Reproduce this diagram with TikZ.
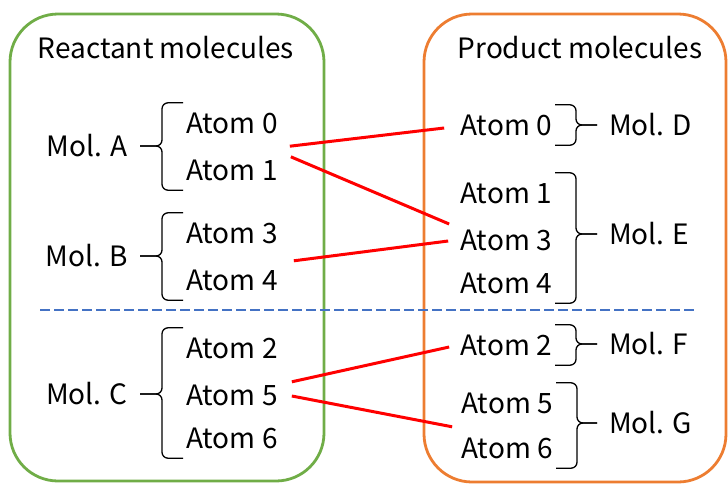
\documentclass[tikz,border=0pt]{standalone}
\usepackage{fontspec}
\setmainfont{Noto Sans CJK JP}
\usetikzlibrary{positioning}

\definecolor{reactgreen}{HTML}{70AD47}
\definecolor{prodorange}{HTML}{ED7D31}
\definecolor{splitblue}{HTML}{4472C4}

% brace from a molecule label to the first and last atom of the group
\newcommand{\molbrace}[4]{%
  \draw[bracket] (#3) -| ([xshift=#4]#1) -- (#1);
  \draw[bracket] (#3) -| ([xshift=#4]#2) -- (#2);}

\begin{document}
\begin{tikzpicture}[x=1pt, y=-1pt, node distance=47pt, font=\fontsize{28}{33}\selectfont,
  atom/.style={inner xsep=3pt, inner ysep=10pt, text height=20pt, text depth=0pt},
  mol/.style={inner xsep=12pt},
  frame/.style={line width=2.8pt, rounded corners=48pt},
  bracket/.style={line width=1.3pt, rounded corners=6pt},
  bond/.style={line width=3pt, red}]
\useasboundingbox (0,0) rectangle (728,483);

\draw[frame, reactgreen] (10,14) rectangle (324,481);
\draw[frame, prodorange] (424,14) rectangle (726,482);
\draw[line width=2.8pt, splitblue, dash pattern=on 10pt off 4pt] (40,310) -- (694,310);

\node (rtitle) at (166,48) {Reactant molecules};
\node (ptitle) at (580,48) {Product molecules};

% reactant side
\node (rA0) [atom, anchor=west] at (183,123) {Atom 0};
\node (rA1) [atom, below of=rA0] {Atom 1};
\node (rB3) [atom, anchor=west] at (183,233) {Atom 3};
\node (rB4) [atom, below of=rB3] {Atom 4};
\node (rC2) [atom, anchor=west] at (183,348) {Atom 2};
\node (rC5) [atom, below of=rC2] {Atom 5};
\node (rC6) [atom, below of=rC5, yshift=4pt] {Atom 6};

\node (mA) [mol, anchor=east] at (140,146) {Mol. A};
\node (mB) [mol, anchor=east] at (140,256) {Mol. B};
\node (mC) [mol, anchor=east] at (140,394) {Mol. C};

% product side
\node (pD0) [atom, anchor=east] at (555,125) {Atom 0};
\node (pE1) [atom, anchor=east] at (555,193) {Atom 1};
\node (pE3) [atom, below of=pE1] {Atom 3};
\node (pE4) [atom, below of=pE3, yshift=4pt] {Atom 4};
\node (pF2) [atom, anchor=east] at (555,345) {Atom 2};
\node (pG5) [atom, anchor=east] at (556,403) {Atom 5};
\node (pG6) [atom, below of=pG5, yshift=2pt] {Atom 6};

\node (mD) [mol, anchor=west] at (597,125) {Mol. D};
\node (mE) [mol, anchor=west] at (597,234) {Mol. E};
\node (mF) [mol, anchor=west] at (597,344) {Mol. F};
\node (mG) [mol, anchor=west] at (597,423) {Mol. G};

\molbrace{rA0.north west}{rA1.south west}{mA.east}{-21pt}
\molbrace{rB3.north west}{rB4.south west}{mB.east}{-21pt}
\molbrace{rC2.north west}{rC6.south west}{mC.east}{-21pt}
\molbrace{pD0.north east}{pD0.south east}{mD.west}{21pt}
\molbrace{pE1.north east}{pE4.south east}{mE.west}{21pt}
\molbrace{pF2.north east}{pF2.south east}{mF.west}{21pt}
\molbrace{pG5.north east}{pG6.south east}{mG.west}{21pt}

% atom mapping
\draw[bond] ([shift={(9,3)}]rA0.south east) -- ([shift={(-13,3)}]pD0.west);
\draw[bond] ([shift={(10,7)}]rA1.north east) -- ([shift={(-8,-16)}]pE3.west);
\draw[bond] ([shift={(13,1)}]rB4.north east) -- ([shift={(-9,1)}]pE3.west);
\draw[bond] ([shift={(11,7)}]rC5.north east) -- ([shift={(-8,2)}]pF2.west);
\draw[bond] ([shift={(11,1)}]rC5.east) -- ([shift={(-6,-1)}]pG6.north west);
\end{tikzpicture}
\end{document}
